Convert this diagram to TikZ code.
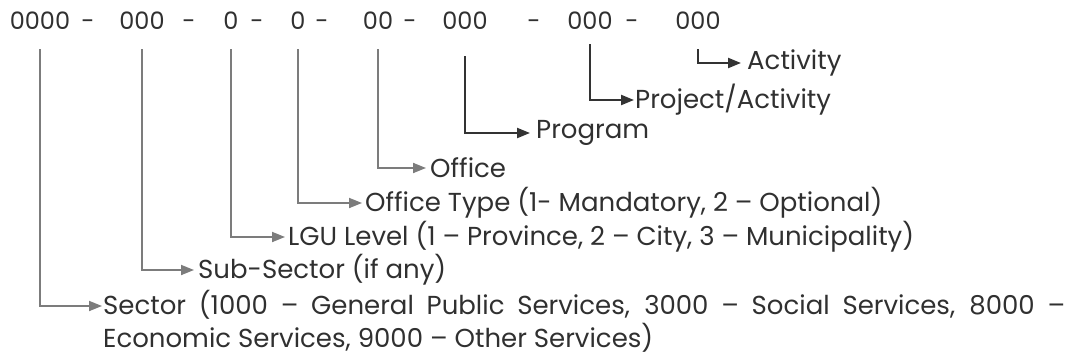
\documentclass[tikz,border=0pt]{standalone}
\usepackage{fontspec}
\setmainfont{Poppins}
\usetikzlibrary{arrows.meta}
\definecolor{txt}{HTML}{303030}
\definecolor{linkgray}{HTML}{7C7C7C}
\definecolor{linkdark}{HTML}{333333}
\begin{document}
\begin{tikzpicture}[x=1pt,y=-1pt,
		font=\fontsize{26}{33}\selectfont,
		code/.style={anchor=base,inner sep=0pt,text=txt,font=\fontsize{24}{28}\selectfont},
		lab/.style={anchor=west,inner xsep=4pt,inner ysep=0pt,text=txt},
		link/.style={line width=1.8pt,draw=linkgray,
			-{Triangle[length=13pt,width=10pt]},shorten <=19pt},
		darklink/.style={link,draw=linkdark,line width=2.2pt}]
		\useasboundingbox (0,0) rectangle (1070,361);
		% code groups
		\node[code] (sec) at (40,30) {0000};
		\node[code] (sub) at (142,30) {000};
		\node[code] (lgu) at (231,30) {0};
		\node[code] (typ) at (298,30) {0};
		\node[code] (off) at (378,30) {00};
		\node[code] (prg) at (465,30) {000};
		\node[code] (prj) at (590,30) {000};
		\node[code] (act) at (698,30) {000};
		\foreach \x in {88,189,257,322,410,534,632}
			\node[code] at (\x,30) {-};
		% labels
		\node[lab,inner xsep=6pt] (actl) at (741,63) {Activity};
		\node[lab,inner xsep=1pt] (prjl) at (634,100) {Project/Activity};
		\node[lab,inner xsep=6pt] (prgl) at (530,133) {Program};
		\node[lab] (offl) at (426,168) {Office};
		\node[lab,inner xsep=3pt] (typl) at (362,203) {Office Type (1- Mandatory, 2 -- Optional)};
		\node[lab,inner xsep=3pt] (lgul) at (285,237) {LGU Level (1 -- Province, 2 -- City, 3 -- Municipality)};
		\node[lab] (subl) at (194,270) {Sub-Sector (if any)};
		\coordinate (secl) at (102,306);
		\node[anchor=north west,inner sep=0pt,text=txt,text width=962pt,align=justify]
			(sect) at (103,290) {Sector (1000 -- General Public Services, 3000 -- Social Services, 8000 --\linebreak Economic Services, 9000 -- Other Services)};
		% connectors
		\draw[link] (sec.south) |- (secl);
		\draw[link] (sub.south) |- (subl.west);
		\draw[link] (lgu.south) |- (lgul.west);
		\draw[link] (typ.south) |- (typl.west);
		\draw[link] (off.south) |- (offl.west);
		\draw[darklink,shorten <=26pt] (prg.south) |- (prgl.west);
		\draw[darklink,shorten <=14pt] (prj.south) |- (prjl.west);
		\draw[darklink] (act.south) |- (actl.west);
	\end{tikzpicture}
\end{document}
